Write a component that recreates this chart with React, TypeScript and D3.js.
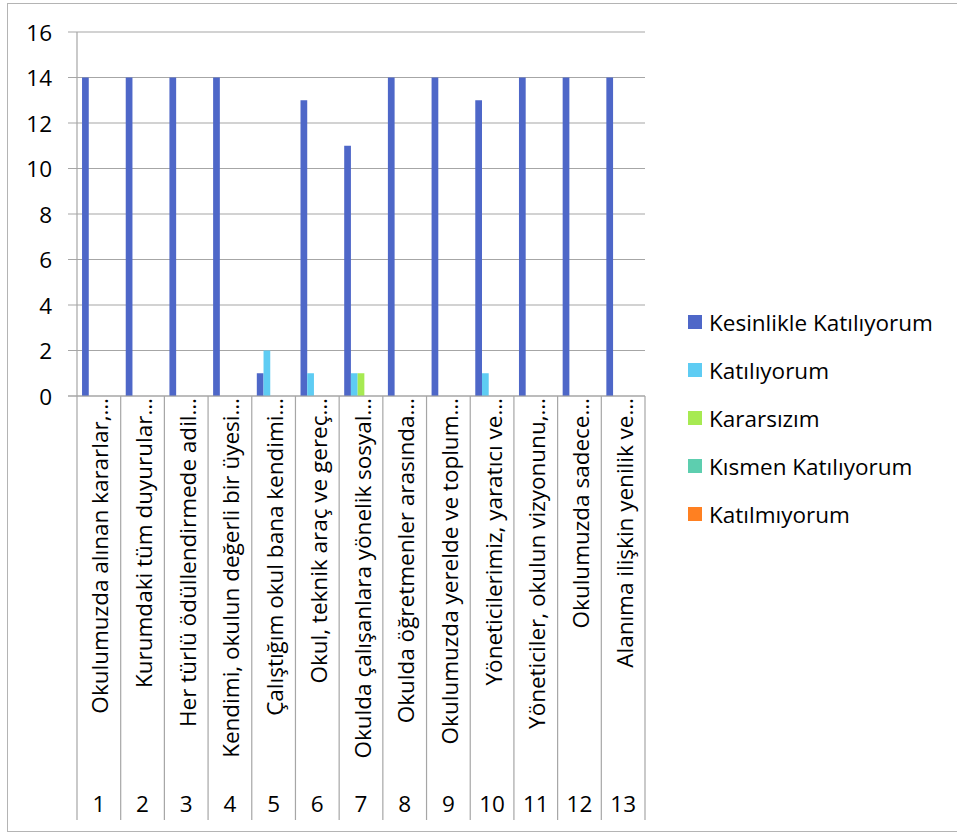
import * as d3 from "d3";

const categories = ["1", "2", "3", "4", "5", "6", "7", "8", "9", "10", "11", "12", "13"];

const questions = [
  "Okulumuzda alınan kararlar,…",
  "Kurumdaki tüm duyurular…",
  "Her türlü ödüllendirmede adil…",
  "Kendimi, okulun değerli bir üyesi…",
  "Çalıştığım okul bana kendimi…",
  "Okul, teknik araç ve gereç…",
  "Okulda çalışanlara yönelik sosyal…",
  "Okulda öğretmenler arasında…",
  "Okulumuzda yerelde ve toplum…",
  "Yöneticilerimiz, yaratıcı ve…",
  "Yöneticiler, okulun vizyonunu,…",
  "Okulumuzda sadece…",
  "Alanıma ilişkin yenilik ve…",
];

const seriesNames = [
  "Kesinlikle Katılıyorum",
  "Katılıyorum",
  "Kararsızım",
  "Kısmen Katılıyorum",
  "Katılmıyorum",
];

const kesinlikle = [14, 14, 14, 14, 1, 13, 11, 14, 14, 13, 14, 14, 14];
const katiliyorum = [0, 0, 0, 0, 2, 1, 1, 0, 0, 1, 0, 0, 0];
const kararsizim = [0, 0, 0, 0, 0, 0, 1, 0, 0, 0, 0, 0, 0];
const kismen = [0, 0, 0, 0, 0, 0, 0, 0, 0, 0, 0, 0, 0];
const katilmiyorum = [0, 0, 0, 0, 0, 0, 0, 0, 0, 0, 0, 0, 0];

const seriesValues = [kesinlikle, katiliyorum, kararsizim, kismen, katilmiyorum];
const colors = ["#4e67c8", "#5eccf3", "#a7ea52", "#5dceaf", "#ff8021"];

const yTicks = [0, 2, 4, 6, 8, 10, 12, 14, 16];

const font = "'Open Sans', Lato, sans-serif";
const fs = 22.5;

export default function App() {
  const width = 957;
  const height = 833;
  const plot = { left: 77, right: 645, top: 32, bottom: 396 };
  const tableBottom = 820;

  const y = d3.scaleLinear().domain([0, 16]).range([plot.bottom, plot.top]);
  const x = d3.scaleBand().domain(categories).range([plot.left, plot.right]).padding(0);
  const xs = d3
    .scaleBand()
    .domain(seriesNames)
    .range([0, x.bandwidth()])
    .paddingInner(0)
    .paddingOuter(0.75);

  const grid = "#a6a6a6";

  return (
    <svg
      width={width}
      height={height}
      style={{ position: "absolute", left: 0, top: 0, background: "#fff" }}
      fontFamily={font}
    >
      <rect x={7.5} y={3.5} width={960} height={828} fill="#fff" stroke="#b4b4b4" />

      {/* grid + y labels */}
      {yTicks.map((t) => (
        <g key={t}>
          <line x1={plot.left - 9} x2={plot.right} y1={y(t)} y2={y(t)} stroke={grid} strokeWidth={1.2} />
          <text x={52} y={y(t)} textAnchor="end" dominantBaseline="central" fontSize={fs} fill="#000">
            {t}
          </text>
        </g>
      ))}
      <line x1={plot.left} x2={plot.left} y1={plot.top} y2={plot.bottom} stroke={grid} strokeWidth={1.2} />

      {/* bars */}
      {seriesValues.map((vals, si) => (
        <g key={si}>
          {vals.map((v, ci) =>
            v > 0 ? (
              <rect
                key={ci}
                x={(x(categories[ci]) ?? 0) + (xs(seriesNames[si]) ?? 0)}
                y={y(v)}
                width={xs.bandwidth()}
                height={y(0) - y(v)}
                fill={colors[si]}
              />
            ) : null
          )}
        </g>
      ))}

      {/* category table */}
      {categories.concat(["end"]).map((c, i) => {
        const xx = plot.left + i * x.step();
        return <line key={c} x1={xx} x2={xx} y1={plot.bottom} y2={tableBottom} stroke={grid} strokeWidth={1.2} />;
      })}
      <line x1={plot.left - 9} x2={plot.right} y1={plot.bottom} y2={plot.bottom} stroke={grid} strokeWidth={1.2} />

      {categories.map((c, i) => {
        const cx = (x(c) ?? 0) + x.bandwidth() / 2;
        return (
          <g key={c}>
            <text
              transform={`translate(${cx + 1},${plot.bottom + 2}) rotate(-90)`}
              textAnchor="end"
              dominantBaseline="central"
              fontSize={fs}
              fill="#000"
            >
              {questions[i]}
            </text>
            <text x={cx} y={803} textAnchor="middle" dominantBaseline="central" fontSize={fs} fill="#000">
              {c}
            </text>
          </g>
        );
      })}

      {/* legend */}
      {seriesNames.map((s, i) => {
        const ly = 322 + i * 48;
        return (
          <g key={s}>
            <rect x={688} y={ly - 7} width={14} height={14} fill={colors[i]} />
            <text x={709} y={ly} dominantBaseline="central" fontSize={fs} fill="#000">
              {s}
            </text>
          </g>
        );
      })}
    </svg>
  );
}
